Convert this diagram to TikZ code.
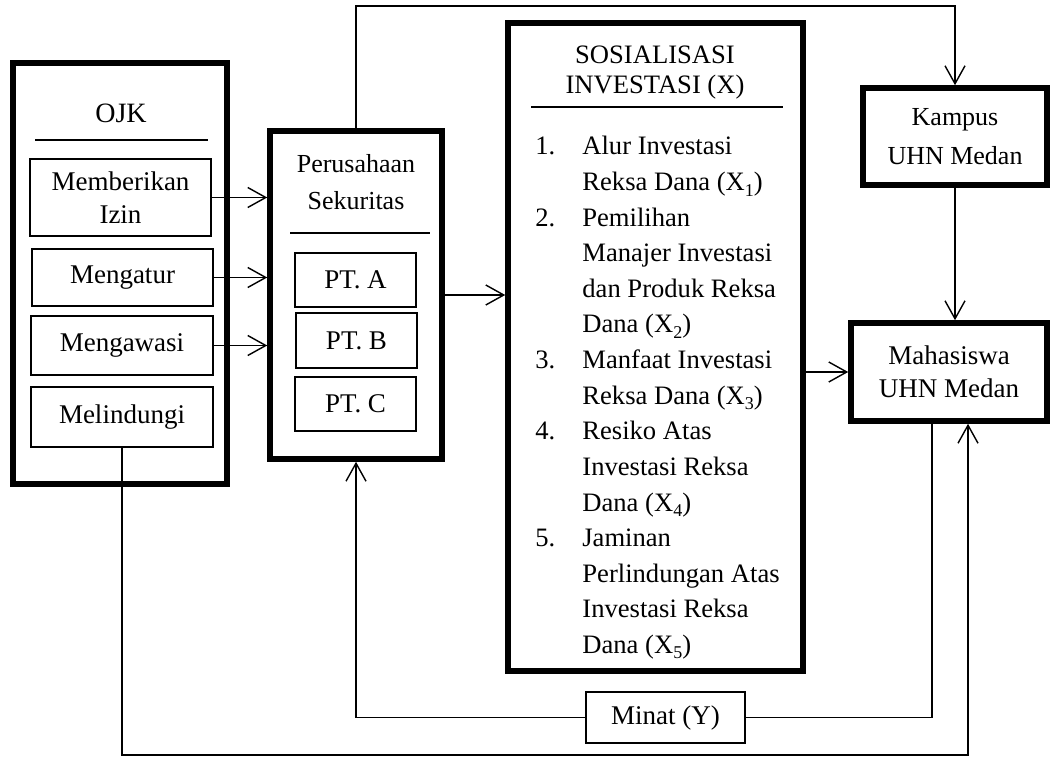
\documentclass[tikz,border=0pt]{standalone}
\usepackage{fontspec}
\setmainfont{Liberation Serif}
\usetikzlibrary{arrows.meta}
\newcommand\xsub[1]{\raisebox{-0.45ex}{\fontsize{9}{9}\selectfont #1}}

\begin{document}
\begin{tikzpicture}[x=0.5pt,y=-0.5pt,
    every node/.style={font=\fontsize{13.5}{16.5}\selectfont,align=center,inner sep=0pt},
    thickbox/.style={draw,line width=2.8pt},
    thinbox/.style={draw,line width=0.7pt},
    link/.style={line width=0.7pt},
    conn/.style={line width=0.7pt,-{Straight Barb[length=9pt,width=10pt]}}]
  \useasboundingbox (0,0) rectangle (1053,759);

  % OJK
  \node[thickbox,minimum width=107pt,minimum height=210.5pt] (oj) at (120,273.5) {};
  \node[font=\fontsize{14}{16}\selectfont] (ojt) at (121,113) {OJK};
  \draw[link] (35,140) -- (208,140);
  \node[thinbox,minimum width=90.5pt,minimum height=38.5pt] (mi) at (120.5,197.5) {Memberikan\\Izin};
  \node[thinbox,minimum width=90.5pt,minimum height=28.5pt] (mg) at (122.5,277.5) {Mengatur};
  \node[thinbox,minimum width=91pt,minimum height=29.5pt] (mw) at (122,345.5) {Mengawasi};
  \node[thinbox,minimum width=91pt,minimum height=30pt] (ml) at (122,417) {Melindungi};

  % Perusahaan Sekuritas
  \node[thickbox,minimum width=86pt,minimum height=164pt] (ps) at (356,295) {};
  \node[font=\fontsize{13}{18.5}\selectfont] (pst) at (356,182) {Perusahaan\\Sekuritas};
  \draw[link] (290,233) -- (430,233);
  \node[thinbox,minimum width=60.5pt,minimum height=27pt] (pa) at (355.5,280) {PT. A};
  \node[thinbox,minimum width=60.5pt,minimum height=27.5pt] (pb) at (356.5,340.5) {PT. B};
  \node[thinbox,minimum width=60.5pt,minimum height=27pt] (pc) at (355.5,404) {PT. C};

  % Sosialisasi
  \node[thickbox,minimum width=147.5pt,minimum height=324pt] (so) at (655.5,347) {};
  \node[font=\fontsize{13.3}{15}\selectfont] (sot) at (655,73) {SOSIALISASI\\INVESTASI (X)};
  \draw[link] (531,107) -- (783,107);
  \node[anchor=base west] (sol) at (535,155) {\fontsize{13.3}{17.8}\selectfont
    \begin{tabular}[t]{@{}l@{}l@{}}
      \makebox[23.5pt][l]{1.} & Alur Investasi\\
      & Reksa Dana (X\xsub{1})\\
      \makebox[23.5pt][l]{2.} & Pemilihan\\
      & Manajer Investasi\\
      & dan Produk Reksa\\
      & Dana (X\xsub{2})\\
      \makebox[23.5pt][l]{3.} & Manfaat Investasi\\
      & Reksa Dana (X\xsub{3})\\
      \makebox[23.5pt][l]{4.} & Resiko Atas\\
      & Investasi Reksa\\
      & Dana (X\xsub{4})\\
      \makebox[23.5pt][l]{5.} & Jaminan\\
      & Perlindungan Atas\\
      & Investasi Reksa\\
      & Dana (X\xsub{5})
    \end{tabular}};

  % Kampus, Mahasiswa, Minat
  \node[thickbox,minimum width=92pt,minimum height=48.5pt,font=\fontsize{13}{19.5}\selectfont] (ka) at (955,136.5) {Kampus\\UHN Medan};
  \node[thickbox,minimum width=98pt,minimum height=49pt] (ma) at (949,372) {Mahasiswa\\UHN Medan};
  \node[thinbox,minimum width=79.5pt,minimum height=25.5pt] (mn) at (665.5,717.5) {Minat (Y)};

  \coordinate (top) at (0,6);
  \coordinate (low) at (0,755);

  \draw[conn] (mi.east) -- (mi.east -| ps.west);
  \draw[conn] (mg.east) -- (mg.east -| ps.west);
  \draw[conn] (mw.east) -- (mw.east -| ps.west);
  \draw[conn] (ps.east) -- (ps.east -| so.west);
  \draw[conn] (ma.west -| so.east) -- (ma.west);
  \draw[conn] (ps.north) -- (ps.north |- top) -| (ka.north);
  \draw[conn] (ka.south) -- (ka.south |- ma.north);
  \draw[link] ([xshift=-8.5pt]ma.south) |- (mn.east);
  \draw[conn] (mn.west) -| (ps.south);
  \draw[conn] (ml.south) -- (ml.south |- low) -| ([xshift=9.5pt]ma.south);
\end{tikzpicture}
\end{document}
